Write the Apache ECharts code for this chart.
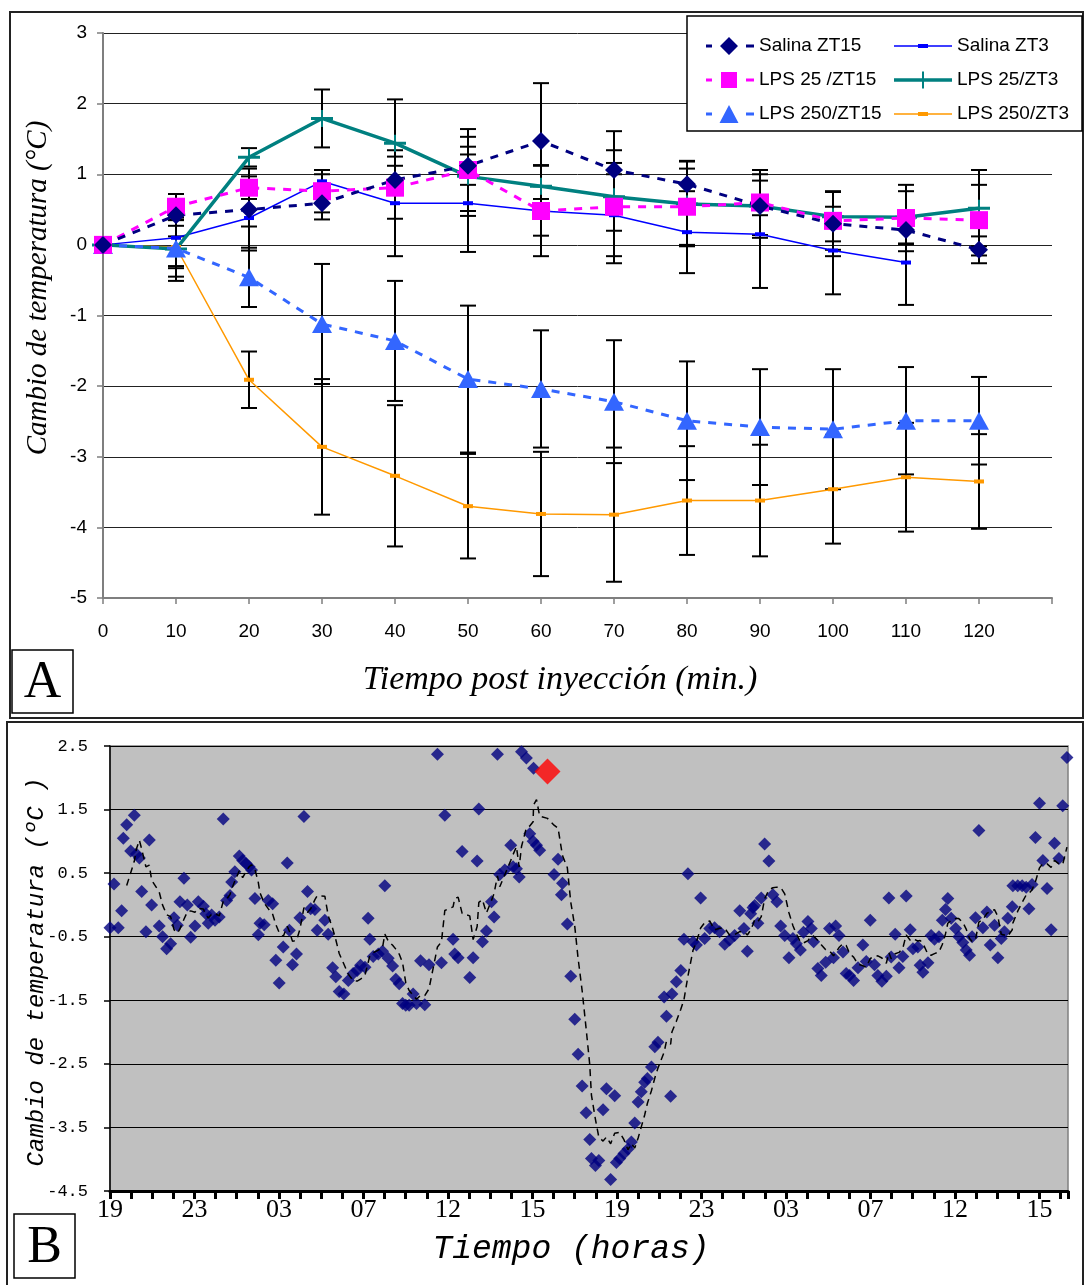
<!DOCTYPE html>
<html>
<head>
<meta charset="utf-8">
<script src="https://cdn.jsdelivr.net/npm/echarts@6/dist/echarts.min.js"></script>
<style>
html,body{margin:0;padding:0;background:#fff;}
#chart{width:1084px;height:1285px;}
</style>
</head>
<body>
<div id="chart"></div>
<script>
// ---------- Panel A data ----------
const aMinutes = [0,10,20,30,40,50,60,70,80,90,100,110,120];
const aXTickMax = 120;
const salinaZT15     = [0,0.42,0.50,0.59,0.92,1.12,1.47,1.06,0.86,0.55,0.30,0.21,-0.07];
const salinaZT15Err  = [0,0.30,0.58,0.23,0.20,0.27,0.82,0.55,0.33,0.45,0.46,0.20,0.19];
const salinaZT3      = [0,0.10,0.38,0.90,0.59,0.59,0.48,0.42,0.18,0.15,-0.08,-0.25,null];
const salinaZT3Err   = [0,0.40,0.12,0.10,0.75,0.69,0.35,0.58,0.58,0.76,0.62,0.60,null];
const lps25ZT15      = [0,0.54,0.81,0.76,0.81,1.06,0.48,0.54,0.54,0.60,0.34,0.38,0.35];
const lps25ZT15Err   = [0,0.18,0.16,0.30,0.44,0.58,0.64,0.80,0.54,0.46,0.41,0.47,0.50];
const lps25ZT3       = [0,-0.06,1.24,1.79,1.44,0.97,0.83,0.68,0.58,0.55,0.40,0.39,0.52];
const lps25ZT3Err    = [0,0.45,0.13,0.41,0.62,0.56,0.30,0.48,0.60,0.13,0.35,0.37,0.54];
const lps250ZT15     = [0,-0.05,-0.46,-1.12,-1.36,-1.90,-2.04,-2.22,-2.49,-2.58,-2.61,-2.49,-2.49];
const lps250ZT15Err  = [0,0.40,0.42,0.85,0.85,1.04,0.83,0.87,0.84,0.82,0.85,0.76,0.62];
const lps250ZT3      = [0,-0.03,-1.91,-2.86,-3.27,-3.70,-3.81,-3.82,-3.62,-3.62,-3.46,-3.29,-3.35];
const lps250ZT3Err   = [0,0.30,0.40,0.96,1.00,0.74,0.88,0.95,0.77,0.79,0.77,0.77,0.67];

// ---------- Panel B data ----------
const bTickLabels = ['19','23','03','07','12','15','19','23','03','07','12','15'];
const bHours = [0,0.19,0.39,0.55,0.63,0.79,0.98,1.15,1.25,1.39,1.5,1.7,1.86,1.97,2.33,2.49,2.68,2.87,3.03,3.19,3.31,3.5,3.66,3.82,4.02,4.18,4.42,4.54,4.65,4.81,4.97,5.17,5.36,5.52,5.68,5.76,5.91,6.12,6.28,6.44,6.59,6.7,6.86,7.02,7.1,7.3,7.49,7.7,7.85,8.01,8.2,8.39,8.49,8.64,8.83,8.99,9.18,9.35,9.5,9.7,9.81,10.17,10.33,10.54,10.69,10.85,11.07,11.28,11.51,11.7,11.86,12.07,12.22,12.3,12.46,12.7,12.9,13.01,13.17,13.38,13.53,13.69,13.85,14.0,14.16,14.35,14.51,14.7,14.9,
15.1,15.5,15.69,15.85,16.24,16.32,16.48,16.67,17.03,17.19,17.38,17.46,17.63,17.82,18.06,18.18,18.34,18.45,18.69,18.97,19.08,19.24,19.37,19.48,19.71,19.87,20.03,20.05,20.19,20.34,21.02,21.21,21.37,21.42,21.65,21.81,22.0,22.16,22.35,22.54,22.71,22.79,22.98,23.14,23.34,23.5,23.7,23.89,23.97,24.13,24.33,24.52,24.68,24.84,25.0,25.15,25.31,25.44,25.63,25.79,25.94,26.23,26.34,26.54,26.6,26.81,27.02,27.17,27.36,27.6,27.76,27.96,28.15,28.39,28.62,28.86,29.1,29.33,29.57,29.81,30.01,30.17,30.33,
30.44,30.52,30.67,30.83,30.99,31.19,31.38,31.57,31.75,31.94,32.14,32.33,32.49,32.68,32.83,33.04,33.2,33.31,33.51,33.67,33.88,34.06,34.25,34.35,34.51,34.7,34.85,35.01,35.2,35.41,35.64,35.8,35.99,36.19,36.35,36.54,36.75,36.87,36.98,37.17,37.35,37.53,37.69,37.88,38.01,38.24,38.35,38.48,38.72,38.87,39.03,39.24,39.4,39.55,39.66,39.82,40.03,40.18,40.37,40.53,40.69,40.81,40.97,41.13,41.32,41.51,41.67,41.87,42.03,42.19,42.34,42.5,42.71,42.74,42.97,43.18,43.37,43.5,43.65,43.81,44.0,44.16,44.36,44.55,44.71,44.92,45.1,45.3];
const bTemp = [-0.36,0.33,-0.36,-0.09,1.05,1.26,0.85,1.41,0.8,0.74,0.21,-0.42,1.02,0.0,-0.33,-0.5,-0.69,-0.61,-0.2,-0.32,0.05,0.42,0.0,-0.51,-0.33,0.05,-0.02,-0.14,-0.29,-0.16,-0.24,-0.19,1.35,0.07,0.15,0.36,0.52,0.77,0.7,0.65,0.6,0.55,0.1,-0.47,-0.29,-0.31,0.07,0.02,-0.87,-1.23,-0.66,0.66,-0.4,-0.94,-0.77,-0.2,1.39,0.21,-0.06,-0.07,-0.4,-0.24,-0.46,-0.99,-1.13,-1.36,-1.4,-1.19,-1.08,-1.03,-0.95,-0.98,-0.21,-0.54,-0.81,-0.77,-0.73,0.3,-0.84,-0.96,-1.17,-1.24,-1.55,-1.58,-1.58,-1.4,-1.55,-0.88,-1.57,
-0.94,2.37,-0.91,1.41,-0.54,-0.77,-0.83,0.84,-1.14,-0.83,0.69,1.51,-0.58,-0.41,0.05,-0.19,2.37,0.48,0.55,0.94,0.6,0.57,0.44,2.41,2.31,1.12,1.0,2.15,0.94,0.86,0.48,0.72,0.16,0.34,-0.3,-1.12,-1.8,-2.35,-2.85,-3.27,-3.69,-3.99,-4.1,-4.02,-3.22,-2.89,-4.32,-3.0,-4.05,-3.99,-3.91,-3.84,-3.73,-3.43,-3.1,-2.94,-2.79,-2.73,-2.55,-2.23,-2.16,-1.45,-1.75,-3.01,-1.4,-1.21,-1.03,-0.54,0.49,-0.58,-0.63,0.11,-0.53,-0.37,-0.36,-0.42,-0.62,-0.55,-0.48,-0.09,-0.37,-0.73,-0.14,
-0.04,-0.01,-0.29,0.11,0.96,0.69,0.16,0.05,-0.33,-0.48,-0.83,-0.53,-0.61,-0.71,-0.43,-0.26,-0.37,-0.58,-1.0,-1.11,-0.9,-0.37,-0.83,-0.33,-0.48,-0.74,-1.08,-1.11,-1.19,-0.99,-0.63,-0.89,-0.24,-0.94,-1.11,-1.2,-1.12,0.11,-0.82,-0.46,-0.99,-0.81,0.14,-0.39,-0.69,-0.66,-0.95,-1.06,-0.91,-0.48,-0.54,-0.5,-0.24,-0.07,0.1,-0.21,-0.37,-0.5,-0.59,-0.71,-0.79,-0.5,-0.2,1.17,-0.36,-0.11,-0.63,-0.32,-0.83,-0.53,-0.42,-0.21,-0.03,0.3,0.3,0.3,0.28,-0.06,0.32,1.06,1.6,0.7,0.26,-0.39,0.97,0.73,1.56,2.32];
const bRedHour = [20.71];
const bRedTemp = [2.1];
const bMovingPeriod = 6;

// ---------- build ----------
function pairs(xs, ys){ return xs.map((x,i)=>[x, ys[i]]); }
function errData(xs, ys, es){
  const out = [];
  xs.forEach((x,i)=>{ if (ys[i]!=null && es[i]) out.push([x, ys[i]-es[i], ys[i]+es[i]]); });
  return out;
}
function errRender(params, api){
  const x = api.value(0), lo = api.value(1), hi = api.value(2);
  const p1 = api.coord([x, hi]), p2 = api.coord([x, lo]);
  const w = 8, st = {stroke:'#000', lineWidth:2};
  return {type:'group', children:[
    {type:'line', shape:{x1:p1[0],y1:p1[1],x2:p2[0],y2:p2[1]}, style:st},
    {type:'line', shape:{x1:p1[0]-w,y1:p1[1],x2:p1[0]+w,y2:p1[1]}, style:st},
    {type:'line', shape:{x1:p2[0]-w,y1:p2[1],x2:p2[0]+w,y2:p2[1]}, style:st}
  ]};
}
function errSeries(name, ys, es){
  return {type:'custom', name: name+' err', xAxisIndex:0, yAxisIndex:0, z:2,
    renderItem: errRender, encode:{x:0, y:[1,2]}, data: errData(aMinutes, ys, es), silent:true};
}
// moving average trendline (Excel-style trailing average of the scatter data)
const allB = pairs(bHours, bTemp).concat(pairs(bRedHour, bRedTemp)).sort((a,b)=>a[0]-b[0]);
const bMA = [];
for (let i = bMovingPeriod-1; i < allB.length; i++){
  let s = 0; for (let k = i-bMovingPeriod+1; k <= i; k++) s += allB[k][1];
  bMA.push([allB[i][0], s/bMovingPeriod]);
}

const plusPath = 'path://M0,7 L22,7 L22,10 L0,10 Z M10,0 L12,0 L12,17 L10,17 Z';
// legend icons (box kept by tiny corner specks)
const specks2 = 'M0,0 L0.02,0 L0,0.02 Z M58,20 L57.98,20 L58,19.98 Z ';
const legThinDash = 'path://' + specks2 + 'M0,9.2 L58,9.2 L58,10.8 L0,10.8 Z M24,8 L34,8 L34,12 L24,12 Z';
const legPlus = 'path://' + specks2 + 'M0,8.3 L58,8.3 L58,11.7 L0,11.7 Z M28,1.5 L30,1.5 L30,18.5 L28,18.5 Z';
const specks1 = 'M0,0 L0.02,0 L0,0.02 Z M50,20 L49.98,20 L50,19.98 Z ';
const endDashes = 'M2,8.5 L8,8.5 L8,11.5 L2,11.5 Z M42,8.5 L50,8.5 L50,11.5 L42,11.5 Z ';
const legDiamond = 'path://' + specks1 + endDashes + 'M25,1 L34,10 L25,19 L16,10 Z';
const legSquare = 'path://' + specks1 + endDashes + 'M17,2 L33,2 L33,18 L17,18 Z';
const legTriangle = 'path://' + specks1 + endDashes + 'M25,1 L34.5,19 L15.5,19 Z';
const dash = [8,8];

const chart = echarts.init(document.getElementById('chart'), null, {renderer:'canvas'});
const sansA = {fontFamily:'Liberation Sans, Arial, sans-serif', fontSize:19, color:'#000'};
const legText = {fontFamily:'Liberation Sans, Arial, sans-serif', fontSize:19, color:'#000'};

const option = {
  animation:false,
  backgroundColor:'#fff',
  grid:[
    {left:103, top:33, width:949, height:565},
    {left:110, top:746, width:958, height:445, show:true, backgroundColor:'#c0c0c0', borderColor:'#808080', borderWidth:1.5}
  ],
  xAxis:[
    {gridIndex:0, type:'value', min:0, max:130, interval:10,
     axisLine:{onZero:false, lineStyle:{color:'#7f7f7f', width:2}},
     axisTick:{inside:false, length:6, lineStyle:{color:'#7f7f7f', width:1.5}},
     axisLabel:Object.assign({margin:24, formatter:v => v <= aXTickMax ? String(v) : ''}, sansA),
     splitLine:{show:false}},
    {gridIndex:1, type:'value', min:0, max:45.35, interval:1,
     axisLine:{onZero:false, lineStyle:{color:'#000', width:3}},
     axisTick:{inside:false, length:8, lineStyle:{color:'#000', width:3}},
     axisLabel:{margin:6, fontFamily:'Liberation Serif, Times New Roman, serif', fontSize:26, color:'#000',
       formatter:v => (Math.abs(v - Math.round(v)) < 1e-6 && Math.round(v) % 4 === 0) ? (bTickLabels[Math.round(v)/4] || '') : ''},
     splitLine:{show:false}}
  ],
  yAxis:[
    {gridIndex:0, type:'value', min:-5, max:3, interval:1,
     axisLine:{show:true, onZero:false, lineStyle:{color:'#7f7f7f', width:2}},
     axisTick:{show:true, inside:false, length:6, lineStyle:{color:'#7f7f7f', width:1.5}},
     axisLabel:Object.assign({margin:16}, sansA),
     splitLine:{show:true, lineStyle:{color:'#222', width:1}}},
    {gridIndex:1, type:'value', min:-4.5, max:2.5, interval:1,
     axisLine:{show:true, onZero:false, lineStyle:{color:'#000', width:1.5}},
     axisTick:{show:true, inside:false, length:6, lineStyle:{color:'#000', width:1.5}},
     axisLabel:{margin:22, fontFamily:'Liberation Mono, monospace', fontSize:17, color:'#000'},
     splitLine:{show:true, lineStyle:{color:'#000', width:1}}}
  ],
  legend:[
    {left:699, top:31, orient:'vertical', itemGap:14, itemWidth:50, itemHeight:20,
     data:[{name:'Salina ZT15', icon:legDiamond},{name:'LPS 25 /ZT15', icon:legSquare},{name:'LPS 250/ZT15', icon:legTriangle}], z:10, selectedMode:false,
     textStyle:legText},
    {left:889, top:31, orient:'vertical', itemGap:14, itemWidth:58, itemHeight:20,
     data:[{name:'Salina ZT3', icon:legThinDash},{name:'LPS 25/ZT3', icon:legPlus},{name:'LPS 250/ZT3', icon:legThinDash}], z:10, selectedMode:false,
     textStyle:legText}
  ],
  graphic:[
    {type:'rect', z:0, shape:{x:10, y:12, width:1073, height:706}, style:{fill:'none', stroke:'#222', lineWidth:2}},
    {type:'rect', z:0, shape:{x:7, y:722, width:1076, height:570}, style:{fill:'none', stroke:'#222', lineWidth:2}},
    {type:'rect', z:5, shape:{x:687, y:16, width:395, height:115}, style:{fill:'#fff', stroke:'#000', lineWidth:1.5}},
    {type:'rect', z:5, shape:{x:12, y:650, width:61, height:63}, style:{fill:'#fff', stroke:'#000', lineWidth:1.5}},
    {type:'text', z:6, x:42.5, y:683, style:{text:'A', fontFamily:'Liberation Serif, Times New Roman, serif', fontSize:52, fill:'#000', textAlign:'center', textVerticalAlign:'middle'}},
    {type:'rect', z:5, shape:{x:14, y:1214, width:61, height:64}, style:{fill:'#fff', stroke:'#000', lineWidth:1.5}},
    {type:'text', z:6, x:44.5, y:1248, style:{text:'B', fontFamily:'Liberation Serif, Times New Roman, serif', fontSize:52, fill:'#000', textAlign:'center', textVerticalAlign:'middle'}},
    {type:'text', z:6, x:560, y:680, style:{text:'Tiempo post inyección (min.)', fontFamily:'Liberation Serif, Times New Roman, serif', fontStyle:'italic', fontSize:34, fill:'#000', textAlign:'center', textVerticalAlign:'middle'}},
    {type:'text', z:6, x:38, y:288, rotation:Math.PI/2, style:{text:'Cambio de temperatura (°C)', fontFamily:'Liberation Serif, Times New Roman, serif', fontStyle:'italic', fontSize:29, fill:'#000', textAlign:'center', textVerticalAlign:'middle'}},
    {type:'text', z:6, x:571, y:1249, style:{text:'Tiempo (horas)', fontFamily:'Liberation Mono, monospace', fontStyle:'italic', fontSize:33, fill:'#000', textAlign:'center', textVerticalAlign:'middle'}},
    {type:'text', z:6, x:37, y:972, rotation:Math.PI/2, style:{text:'Cambio de temperatura (ºC )', fontFamily:'Liberation Mono, monospace', fontStyle:'italic', fontSize:24, fill:'#000', textAlign:'center', textVerticalAlign:'middle'}}
  ],
  series:[
    errSeries('Salina ZT15', salinaZT15, salinaZT15Err),
    errSeries('Salina ZT3', salinaZT3, salinaZT3Err),
    errSeries('LPS 25 /ZT15', lps25ZT15, lps25ZT15Err),
    errSeries('LPS 25/ZT3', lps25ZT3, lps25ZT3Err),
    errSeries('LPS 250/ZT15', lps250ZT15, lps250ZT15Err),
    errSeries('LPS 250/ZT3', lps250ZT3, lps250ZT3Err),
    {type:'line', name:'LPS 250/ZT3', xAxisIndex:0, yAxisIndex:0, z:3, data:pairs(aMinutes, lps250ZT3),
     lineStyle:{color:'#ff9900', width:1.5}, itemStyle:{color:'#ff9900'}, symbol:'rect', symbolSize:[10,4], showAllSymbol:true},
    {type:'line', name:'Salina ZT3', xAxisIndex:0, yAxisIndex:0, z:3, data:pairs(aMinutes, salinaZT3),
     lineStyle:{color:'#0000ff', width:1.5}, itemStyle:{color:'#0000ff'}, symbol:'rect', symbolSize:[10,4], showAllSymbol:true},
    {type:'line', name:'LPS 25/ZT3', xAxisIndex:0, yAxisIndex:0, z:3, data:pairs(aMinutes, lps25ZT3),
     lineStyle:{color:'#008080', width:3.5}, itemStyle:{color:'#008080'}, symbol:plusPath, symbolSize:[22,17], showAllSymbol:true},
    {type:'line', name:'LPS 250/ZT15', xAxisIndex:0, yAxisIndex:0, z:4, data:pairs(aMinutes, lps250ZT15),
     lineStyle:{color:'#3366ff', width:3, type:dash}, itemStyle:{color:'#3366ff'}, symbol:'triangle', symbolSize:[20,18], showAllSymbol:true},
    {type:'line', name:'LPS 25 /ZT15', xAxisIndex:0, yAxisIndex:0, z:4, data:pairs(aMinutes, lps25ZT15),
     lineStyle:{color:'#ff00ff', width:3, type:dash}, itemStyle:{color:'#ff00ff'}, symbol:'rect', symbolSize:18, showAllSymbol:true},
    {type:'line', name:'Salina ZT15', xAxisIndex:0, yAxisIndex:0, z:4, data:pairs(aMinutes, salinaZT15),
     lineStyle:{color:'#000080', width:3, type:dash}, itemStyle:{color:'#000080'}, symbol:'diamond', symbolSize:18, showAllSymbol:true},
    // Panel B
    {type:'scatter', name:'B datos', xAxisIndex:1, yAxisIndex:1, z:3, data:pairs(bHours, bTemp),
     symbol:'diamond', symbolSize:13, itemStyle:{color:'#000080'}, clip:true},
    {type:'scatter', name:'B destacado', xAxisIndex:1, yAxisIndex:1, z:4, data:pairs(bRedHour, bRedTemp),
     symbol:'diamond', symbolSize:26, itemStyle:{color:'#ff0000'}, clip:true},
    {type:'line', name:'B media movil', xAxisIndex:1, yAxisIndex:1, z:5, data:bMA, showSymbol:false, symbol:'none',
     lineStyle:{color:'#000', width:1.5, type:[7,5]}, clip:true}
  ]
};
chart.setOption(option);
</script>
</body>
</html>
